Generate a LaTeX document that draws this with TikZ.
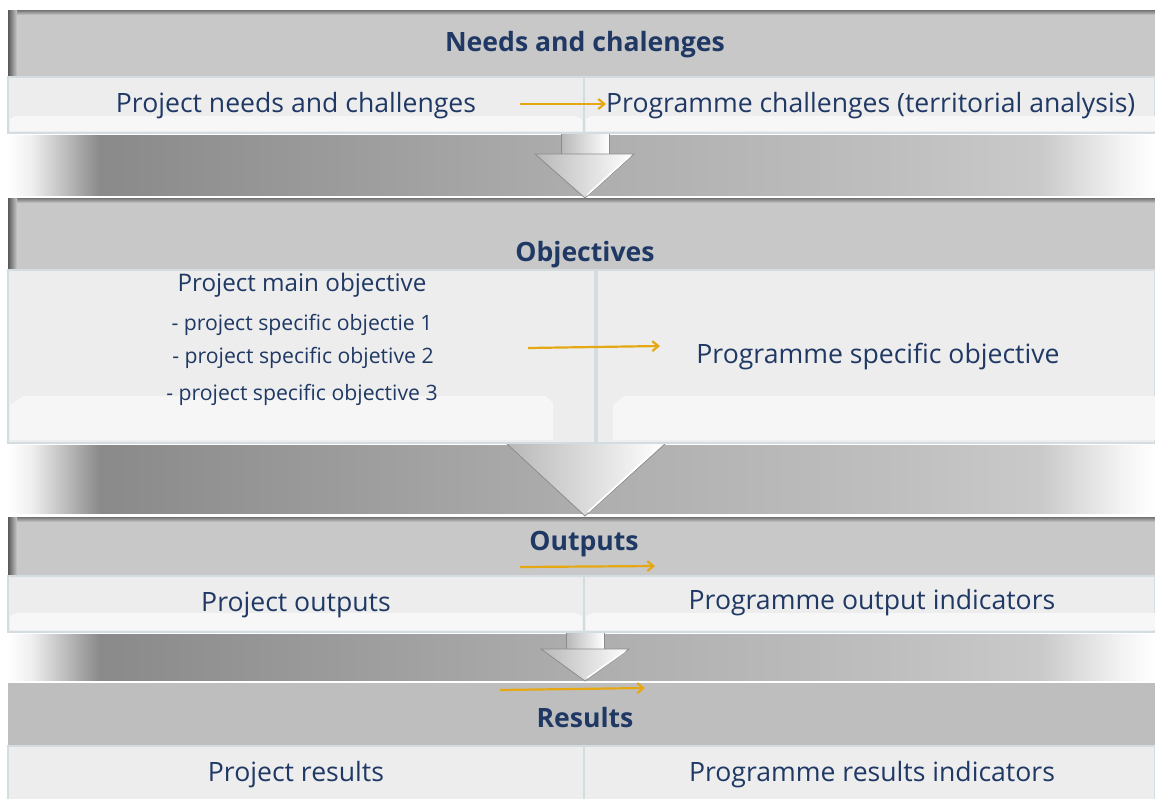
\documentclass[tikz,border=0pt]{standalone}
\usepackage{fontspec}
\setmainfont{Open Sans}
\usetikzlibrary{arrows.meta}
\definecolor{navy}{HTML}{1F3864}
\definecolor{hdr}{HTML}{C8C8C8}
\definecolor{hdrb}{HTML}{BEBEBE}
\definecolor{rowc}{HTML}{EDEDED}
\definecolor{rowb}{HTML}{D3DCE0}
\definecolor{gold}{HTML}{E6A812}
\pgfdeclarehorizontalshading{bandshade}{100bp}{color(0bp)=(white); color(25bp)=(white); color(26bp)=(black!6); color(29bp)=(black!46); color(38bp)=(black!40); color(50bp)=(black!32); color(64bp)=(black!25); color(70bp)=(black!21); color(73.5bp)=(black!5); color(75bp)=(white); color(100bp)=(white)}
\tikzset{
  hd/.style={font=\fontsize{26.6}{30}\selectfont\bfseries, text=navy, inner sep=0pt},
  tx/.style={font=\fontsize{26.6}{30}\selectfont, text=navy, inner sep=0pt},
  mid/.style={font=\fontsize{24.2}{28}\selectfont, text=navy, inner sep=0pt},
  sm/.style={font=\fontsize{21.2}{24}\selectfont, text=navy, inner sep=0pt},
  rowbox/.style={fill=rowc, draw=rowb, line width=1.2pt},
  band/.style={shading=bandshade},
  goldarr/.style={draw=gold, line width=2.2pt, -{Straight Barb[length=6pt,width=10pt]}},
  silver/.style={draw=black!45, line width=0.8pt, left color=black!28, right color=white},
  hilite/.style={draw=white, line width=1.6pt}
}
\newcommand{\hdrband}[2]{%
  \fill[hdr] (8,#1) rectangle (1155,#2);
  \shade[top color=black!55, bottom color=hdr] (8,#1) rectangle (1155,#1+5);
  \shade[left color=black!65, right color=hdr] (8,#1) rectangle (17,#2);
}
\begin{document}
\begin{tikzpicture}[x=1pt,y=-1pt]
\useasboundingbox (0,0) rectangle (1155,798);
\fill[white] (0,0) rectangle (1155,798);

% ---------- bands ----------
\shade[band] (8,135) rectangle (1155,195);
\shade[band] (8,445) rectangle (1155,513);
\shade[band] (8,634) rectangle (1155,680);

% ---------- header bands ----------
\hdrband{10}{76}
\hdrband{198}{270}
\hdrband{517}{575}
\fill[hdrb] (8,683) rectangle (1155,745);
\draw[white, line width=1.5pt] (8,682) -- (1155,682);

% ---------- silver arrows ----------
% arrow 1
\path[silver] (561,133) rectangle (609,154);
\path[silver] (535,154) -- (634,154) -- (585,198) -- cycle;
\draw[hilite] (630,156) -- (587,195);
% arrow 2
\path[silver] (506,443) -- (666,443) -- (585,516) -- cycle;
\draw[hilite] (660,446) -- (588,512);
% arrow 3
\path[silver] (566,630) rectangle (604,649);
\path[silver] (541,649) -- (629,649) -- (585,681) -- cycle;
\draw[hilite] (625,651) -- (587,678);

% ---------- row boxes ----------
\path[rowbox] (8,77) rectangle (584,133);
\path[rowbox] (584,77) rectangle (1155,133);
\fill[white!55!rowc] (10,119) -- (16,116) -- (575,116) -- (582,119) -- (582,131) -- (10,131) -- cycle;
\fill[white!55!rowc] (586,119) -- (592,116) -- (1155,116) -- (1155,131) -- (586,131) -- cycle;

\path[rowbox] (8,270) rectangle (595,443);
\path[rowbox] (597,270) rectangle (1155,443);
\fill[white!50!rowc] (10,405) -- (24,396) -- (545,396) -- (556,405) -- (556,440) -- (10,440) -- cycle;
\fill[white!50!rowc] (613,405) -- (624,396) -- (1155,396) -- (1155,440) -- (613,440) -- cycle;
\fill[black!7] (553,398) -- (560,396) -- (560,440) -- (553,440) -- cycle;

\path[rowbox] (8,576) rectangle (584,632);
\path[rowbox] (584,576) rectangle (1155,632);
\fill[white!55!rowc] (10,616) -- (16,613) -- (575,613) -- (582,616) -- (582,630) -- (10,630) -- cycle;
\fill[white!55!rowc] (586,616) -- (592,613) -- (1155,613) -- (1155,630) -- (586,630) -- cycle;

\path[rowbox] (8,746) rectangle (584,800);
\path[rowbox] (584,746) rectangle (1155,800);

% ---------- texts ----------
\node[hd] (h1) at (585,45) {Needs and chalenges};
\node[tx] (p1) at (296,106) {Project needs and challenges};
\node[tx, anchor=west] (g1) at (606,106) {Programme challenges (territorial analysis)};

\node[hd] (h2) at (585,255) {Objectives};
\node[mid] (p2) at (302,285) {Project main objective};
\node[sm] (s1) at (302,325) {- project specific objectie 1};
\node[sm] (s2) at (303,358) {- project specific objetive 2};
\node[sm] (s3) at (302,395) {- project specific objective 3};
\node[tx] (g2) at (878,357) {Programme specific objective};

\node[hd] (h3) at (584,544) {Outputs};
\node[tx] (p3) at (296,605) {Project outputs};
\node[tx] (g3) at (872,603) {Programme output indicators};

\node[hd] (h4) at (585,718) {Results};
\node[tx] (p4) at (296,775) {Project results};
\node[tx] (g4) at (872,775) {Programme results indicators};

% ---------- gold arrows ----------
\coordinate (a1s) at (520,104);
\coordinate (a2s) at (528,348);
\coordinate (a2e) at (660,346);
\coordinate (a3s) at (520,567);
\coordinate (a3e) at (655,566);
\coordinate (a4s) at (500,690);
\coordinate (a4e) at (645,688);
\draw[goldarr] (a1s) -- (a1s -| g1.west);
\draw[goldarr] (a2s) -- (a2e);
\draw[goldarr] (a3s) -- (a3e);
\draw[goldarr] (a4s) -- (a4e);
\end{tikzpicture}
\end{document}
